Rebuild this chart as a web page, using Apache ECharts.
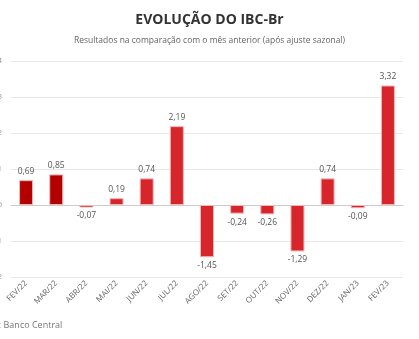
<!DOCTYPE html>
<html><head><meta charset="utf-8">
<script src="https://cdn.jsdelivr.net/npm/echarts@6/dist/echarts.min.js"></script>
<style>html,body{margin:0;padding:0;background:#fff}#c{width:419px;height:339px}</style>
</head><body><div id="c"></div>
<script>
const categories = ['FEV/22','MAR/22','ABR/22','MAI/22','JUN/22','JUL/22','AGO/22','SET/22','OUT/22','NOV/22','DEZ/22','JAN/23','FEV/23'];
const values = [0.69,0.85,-0.07,0.19,0.74,2.19,-1.45,-0.24,-0.26,-1.29,0.74,-0.09,3.32];
const darkCount = 3;
const chart = echarts.init(document.getElementById('c'));
chart.setOption({
  animation:false,
  textStyle:{fontFamily:'Open Sans'},
  title:{text:'EVOLUÇÃO DO IBC-Br',subtext:'Resultados na comparação com o mês anterior (após ajuste sazonal)',left:'center',top:8,itemGap:9,
    textStyle:{fontSize:14,fontWeight:'bold',color:'#333',fontFamily:'Open Sans'},
    subtextStyle:{fontSize:8.5,color:'#666',fontFamily:'Open Sans'}},
  graphic:[{type:'text',left:-25,top:321,style:{text:'Fonte: Banco Central',fontSize:9,fill:'#777',fontFamily:'Open Sans'}}],
  grid:{left:11,right:16,top:61,bottom:62,outerBoundsMode:'none',containLabel:false},
  xAxis:{type:'category',data:categories,
    axisLine:{lineStyle:{color:'#ccc'}},axisTick:{length:6,lineStyle:{color:'#ccc'}},
    axisLabel:{rotate:45,fontSize:8,color:'#666',margin:5,interval:0}},
  yAxis:{type:'value',min:-2,max:4,interval:1,
    axisLabel:{fontSize:8,color:'#999',margin:9},
    splitLine:{lineStyle:{color:'#e8e8e8'}}},
  series:[{type:'bar',barWidth:14,
    data:values.map((v,i)=>({value:v,
      itemStyle:{color:i<darkCount?'#b30000':'#d6252b',borderColor:'#f5b5b5',borderWidth:1},
      label:{position:v>=0?'top':'bottom'}})),
    label:{show:true,fontSize:8.5,color:'#555',distance:4,formatter:p=>p.value.toFixed(2).replace('.',',')}}]
});
</script></body></html>
